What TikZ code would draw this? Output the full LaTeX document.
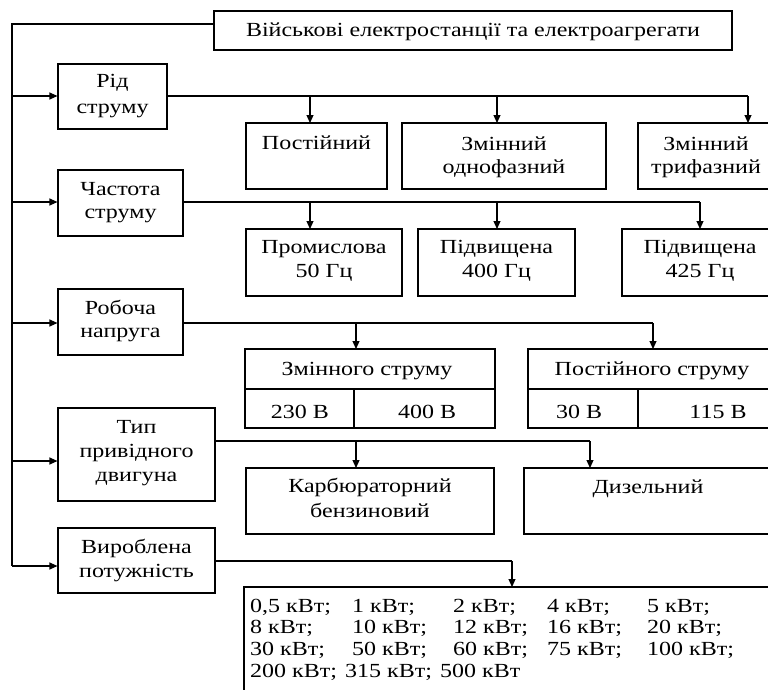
\documentclass[tikz,border=0pt]{standalone}
\usepackage{fontspec}
\setmainfont{Liberation Serif}[FakeStretch=1.2]
\usetikzlibrary{arrows.meta,fit}
\tikzset{
  box/.style={draw, line width=1.1pt, inner sep=0pt},
  conn/.style={line width=1.1pt},
  arr/.style={line width=1.1pt, -{Triangle[length=8pt,width=7pt]}},
  txt/.style={inner sep=0pt, anchor=base, font=\fontsize{20}{22}\selectfont},
  txtl/.style={inner sep=0pt, anchor=base west, font=\fontsize{20}{22}\selectfont}
}
\begin{document}
\begin{tikzpicture}[x=1pt,y=-1pt]
\useasboundingbox (0,0) rectangle (768,689);
\clip (0,0) rectangle (768,689);
\fill[white] (0,0) rectangle (768,689);
% boxes
\node[box, fit={(214,11)(732,50)}] (title) {};
\node[box, fit={(58,64)(167,129)}] (rid) {};
\node[box, fit={(58,170)(183,236)}] (chast) {};
\node[box, fit={(58,289)(183,355)}] (rob) {};
\node[box, fit={(58,408)(215,501)}] (typ) {};
\node[box, fit={(58,528)(215,593)}] (vyr) {};
\node[box, fit={(246,123)(387,189)}] (post) {};
\node[box, fit={(402,123)(606,189)}] (zmo) {};
\node[box, fit={(638,123)(790,189)}] (zmt) {};
\node[box, fit={(246,229)(402,296)}] (prom) {};
\node[box, fit={(418,229)(575,296)}] (p400) {};
\node[box, fit={(622,229)(790,296)}] (p425) {};
\node[box, fit={(245,349)(495,428)}] (zs) {};
\node[box, fit={(528,349)(790,428)}] (ps) {};
\node[box, fit={(246,468)(494,534)}] (karb) {};
\node[box, fit={(524,468)(790,534)}] (diz) {};
\node[box, fit={(244,587)(790,720)}] (pow) {};
% table dividers
\coordinate (zsh) at (245,389); \coordinate (zsv) at (354,389);
\draw[conn] (zsh) -- (zsh -| zs.east);
\draw[conn] (zsv) -- (zsv |- zs.south);
\coordinate (psh) at (528,389); \coordinate (psv) at (638,389);
\draw[conn] (psh) -- (psh -| ps.east);
\draw[conn] (psv) -- (psv |- ps.south);
% spine
\coordinate (tj) at (214,24);
\coordinate (s0) at (12,24);
\coordinate (s1) at (12,96);
\coordinate (s2) at (12,202);
\coordinate (s3) at (12,323);
\coordinate (s4) at (12,461);
\coordinate (s5) at (12,566);
\draw[conn] (tj) -- (s0) -- (s5);
\draw[arr] (s1) -- (s1 -| rid.west);
\draw[arr] (s2) -- (s2 -| chast.west);
\draw[arr] (s3) -- (s3 -| rob.west);
\draw[arr] (s4) -- (s4 -| typ.west);
\draw[arr] (s5) -- (s5 -| vyr.west);
% branch 1
\coordinate (a11) at (310,123); \coordinate (a12) at (497,123); \coordinate (a13) at (748,123);
\draw[conn] (s1 -| rid.east) -- (s1 -| a13);
\draw[arr] (s1 -| a11) -- (a11);
\draw[arr] (s1 -| a12) -- (a12);
\draw[arr] (s1 -| a13) -- (a13);
% branch 2
\coordinate (a21) at (310,229); \coordinate (a22) at (497,229); \coordinate (a23) at (700,229);
\draw[conn] (s2 -| chast.east) -- (s2 -| a23);
\draw[arr] (s2 -| a21) -- (a21);
\draw[arr] (s2 -| a22) -- (a22);
\draw[arr] (s2 -| a23) -- (a23);
% branch 3
\coordinate (a31) at (356,349); \coordinate (a32) at (653,349);
\draw[conn] (s3 -| rob.east) -- (s3 -| a32);
\draw[arr] (s3 -| a31) -- (a31);
\draw[arr] (s3 -| a32) -- (a32);
% branch 4
\coordinate (h4) at (215,441);
\coordinate (a41) at (356,468); \coordinate (a42) at (590,468);
\draw[conn] (h4) -- (h4 -| a42);
\draw[arr] (h4 -| a41) -- (a41);
\draw[arr] (h4 -| a42) -- (a42);
% branch 5
\coordinate (h5) at (215,561);
\coordinate (a51) at (512,587);
\draw[conn] (h5) -- (h5 -| a51);
\draw[arr] (h5 -| a51) -- (a51);
% texts
\node[txt] (tt) at (473,36) {Військові електростанції та електроагрегати};
\node[txt] (t1a) at (112.5,87) {Рід};
\node[txt] (t1b) at (112.5,113) {струму};
\node[txt] (t2a) at (120.5,195) {Частота};
\node[txt] (t2b) at (120.5,218) {струму};
\node[txt] (t3a) at (120.5,314) {Робоча};
\node[txt] (t3b) at (120.5,337) {напруга};
\node[txt] (t4a) at (136.5,433) {Тип};
\node[txt] (t4b) at (136.5,457) {привідного};
\node[txt] (t4c) at (136.5,481) {двигуна};
\node[txt] (t5a) at (136.5,553) {Вироблена};
\node[txt] (t5b) at (136.5,577) {потужність};
\node[txt] (c11) at (316.5,149) {Постійний};
\node[txt] (c12a) at (504,150) {Змінний};
\node[txt] (c12b) at (504,173) {однофазний};
\node[txt] (c13a) at (706,150) {Змінний};
\node[txt] (c13b) at (706,173) {трифазний};
\node[txt] (c21a) at (324,253) {Промислова};
\node[txt] (c21b) at (324,277) {50 Гц};
\node[txt] (c22a) at (496.5,253) {Підвищена};
\node[txt] (c22b) at (496.5,277) {400 Гц};
\node[txt] (c23a) at (700,253) {Підвищена};
\node[txt] (c23b) at (700,277) {425 Гц};
\node[txt] (c31) at (367,375) {Змінного струму};
\node[txt] (c31a) at (300,418) {230 В};
\node[txt] (c31b) at (427,418) {400 В};
\node[txt] (c32) at (652,375) {Постійного струму};
\node[txt] (c32a) at (579,418) {30 В};
\node[txt] (c32b) at (718,418) {115 В};
\node[txt] (c41a) at (370,492) {Карбюраторний};
\node[txt] (c41b) at (370,517) {бензиновий};
\node[txt] (c42) at (648,493) {Дизельний};
\node[txtl] (r1) at (250,612) {\makebox[102pt][l]{0,5 кВт;}\makebox[101pt][l]{1 кВт;}\makebox[94pt][l]{2 кВт;}\makebox[100pt][l]{4 кВт;}5 кВт;};
\node[txtl] (r2) at (250,633.5) {\makebox[102pt][l]{8 кВт;}\makebox[101pt][l]{10 кВт;}\makebox[94pt][l]{12 кВт;}\makebox[100pt][l]{16 кВт;}20 кВт;};
\node[txtl] (r3) at (250,655) {\makebox[102pt][l]{30 кВт;}\makebox[101pt][l]{50 кВт;}\makebox[94pt][l]{60 кВт;}\makebox[100pt][l]{75 кВт;}100 кВт;};
\node[txtl] (r4) at (250,677) {\makebox[95pt][l]{200 кВт;}\makebox[95pt][l]{315 кВт;}500 кВт};
\end{tikzpicture}
\end{document}
